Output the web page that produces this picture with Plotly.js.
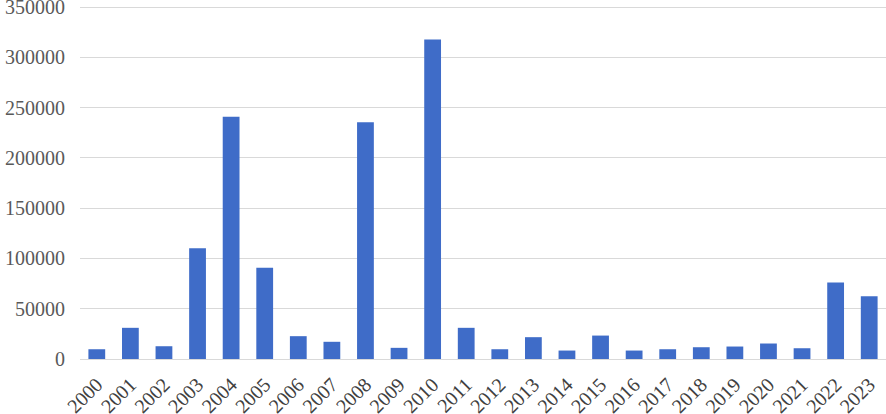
<!DOCTYPE html>
<html>
<head>
<meta charset="utf-8">
<script src="https://cdn.plot.ly/plotly-3.0.1.min.js"></script>
<style>
html,body{margin:0;padding:0;background:#fff;}
#chart{width:886px;height:414px;}
</style>
</head>
<body>
<div id="chart"></div>
<script>
const years = ["2000","2001","2002","2003","2004","2005","2006","2007","2008","2009","2010","2011",
               "2012","2013","2014","2015","2016","2017","2018","2019","2020","2021","2022","2023"];
const values = [9700, 31000, 12700, 110000, 241000, 90700, 22700, 17100, 235500, 11100, 317600, 31000,
                9700, 21700, 8400, 23300, 8400, 9700, 11700, 12400, 15400, 10700, 76000, 62400];
const yTicks = [0, 50000, 100000, 150000, 200000, 250000, 300000, 350000];

const trace = {
  type: 'bar',
  x: years,
  y: values,
  marker: {color: '#3f6cc8', line: {width: 0}},
  hoverinfo: 'x+y'
};

const serif = 'Liberation Serif, Times New Roman, serif';

const layout = {
  width: 886,
  height: 414,
  margin: {l: 80, r: 0, t: 6, b: 55, pad: 0},
  paper_bgcolor: '#ffffff',
  plot_bgcolor: '#ffffff',
  bargap: 0.5,
  showlegend: false,
  font: {family: serif, color: '#595959'},
  xaxis: {
    type: 'category',
    tickangle: -45,
    tickfont: {family: serif, size: 20, color: '#404040'},
    showgrid: false,
    showline: false,
    ticks: '',
    ticklabelstandoff: 9,
    ticklabeloverflow: 'allow',
    automargin: false
  },
  yaxis: {
    range: [0, 351000],
    tickvals: yTicks,
    ticktext: yTicks.map(String),
    tickfont: {family: serif, size: 20, color: '#595959'},
    showgrid: true,
    gridcolor: '#d9d9d9',
    gridwidth: 1,
    zeroline: true,
    zerolinecolor: '#d9d9d9',
    zerolinewidth: 1,
    showline: false,
    ticks: '',
    ticklabelstandoff: 14,
    ticklabeloverflow: 'allow',
    automargin: false
  }
};

Plotly.newPlot('chart', [trace], layout, {displayModeBar: false, staticPlot: true});
</script>
</body>
</html>
